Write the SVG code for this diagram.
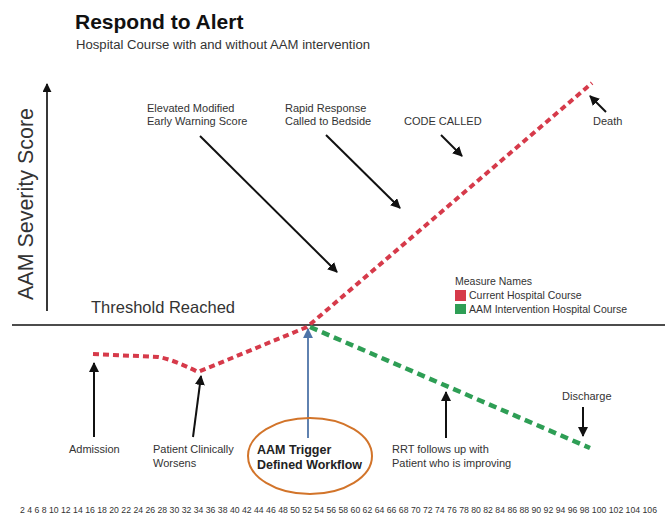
<svg xmlns="http://www.w3.org/2000/svg" width="667" height="520" viewBox="0 0 667 520">
<style>
text{font-family:"Liberation Sans",Arial,sans-serif;fill:#333}
.lbl{font-size:11px}
.blk{stroke:#111;stroke-width:2;fill:none}
.red{stroke:#d63a4a;stroke-width:4;fill:none;stroke-dasharray:6 4}
.green{stroke:#2e9e55;stroke-width:4.5;fill:none;stroke-dasharray:8 5}
</style>
<defs>
<marker id="ah" viewBox="0 0 10 10" refX="9" refY="5" markerWidth="5" markerHeight="5" orient="auto" markerUnits="strokeWidth">
<path d="M0,0 L10,5 L0,10 Z" fill="#111"/>
</marker>
<marker id="ahb" viewBox="0 0 10 10" refX="9" refY="5" markerWidth="5.5" markerHeight="5.5" orient="auto" markerUnits="strokeWidth">
<path d="M0,0 L10,5 L0,10 Z" fill="#4e74a8"/>
</marker>
</defs>

<g id="title">
<text x="75" y="29" font-size="21" font-weight="bold" style="fill:#111">Respond to Alert</text>
<text x="76" y="49" font-size="12.5" textLength="294" lengthAdjust="spacingAndGlyphs">Hospital Course with and without AAM intervention</text>
</g>

<g id="axis">
<line x1="47" y1="311" x2="47" y2="84" stroke="#222" stroke-width="1.8" marker-end="url(#ah)"/>
<text transform="translate(33,204) rotate(-90)" text-anchor="middle" font-size="22" textLength="192" lengthAdjust="spacingAndGlyphs">AAM Severity Score</text>
<line x1="12" y1="325" x2="665" y2="325" stroke="#111" stroke-width="1.5"/>
<text x="91" y="313" font-size="16.5">Threshold Reached</text>
<text x="20" y="513" font-size="8.6" textLength="637" lengthAdjust="spacingAndGlyphs">2 4 6 8 10 12 14 16 18 20 22 24 26 28 30 32 34 36 38 40 42 44 46 48 50 52 54 56 58 60 62 64 66 68 70 72 74 76 78 80 82 84 86 88 90 92 94 96 98 100 102 104 106</text>
</g>

<g id="legend">
<text x="455" y="285" font-size="10.5">Measure Names</text>
<rect x="455" y="290" width="11" height="11" fill="#d63a4a"/>
<text x="469" y="299" font-size="10.5">Current Hospital Course</text>
<rect x="455" y="304" width="11" height="10" fill="#2e9e55"/>
<text x="469" y="313" font-size="10.5">AAM Intervention Hospital Course</text>
</g>

<g id="connectors">
<path class="red" d="M93,354 L158,357 Q172,359 198,372 L307,327 L592,83"/>
<path class="green" d="M310,327 L590,448"/>
<line class="blk" x1="200" y1="136" x2="337" y2="272" marker-end="url(#ah)"/>
<line class="blk" x1="326" y1="135" x2="400" y2="208" marker-end="url(#ah)"/>
<line class="blk" x1="441" y1="135" x2="462" y2="156" marker-end="url(#ah)"/>
<line class="blk" x1="606" y1="112" x2="590" y2="96" marker-end="url(#ah)"/>
<line class="blk" x1="94" y1="437" x2="94" y2="363" marker-end="url(#ah)"/>
<line class="blk" x1="193" y1="437" x2="201" y2="376" marker-end="url(#ah)"/>
<line class="blk" x1="446" y1="438" x2="446" y2="392" marker-end="url(#ah)"/>
<line class="blk" x1="583" y1="407" x2="583" y2="436" marker-end="url(#ah)"/>
<line x1="308" y1="438" x2="308" y2="329" stroke="#4e74a8" stroke-width="1.8" marker-end="url(#ahb)"/>
</g>

<g id="ews"><text class="lbl" x="147" y="112">Elevated Modified</text><text class="lbl" x="147" y="125">Early Warning Score</text></g>
<g id="rrt-called"><text class="lbl" x="285" y="112">Rapid Response</text><text class="lbl" x="285" y="125">Called to Bedside</text></g>
<g id="code"><text class="lbl" x="404" y="125">CODE CALLED</text></g>
<g id="death"><text class="lbl" x="593" y="125">Death</text></g>
<g id="admission"><text class="lbl" x="69" y="453">Admission</text></g>
<g id="worsens"><text class="lbl" x="153" y="453">Patient Clinically</text><text class="lbl" x="153" y="467">Worsens</text></g>
<g id="trigger">
<ellipse cx="310" cy="456" rx="62" ry="38" fill="none" stroke="#d2742a" stroke-width="2"/>
<text x="257" y="454" font-size="12.5" font-weight="bold" style="fill:#222">AAM Trigger</text>
<text x="257" y="469" font-size="12.5" font-weight="bold" style="fill:#222" textLength="105" lengthAdjust="spacingAndGlyphs">Defined Workflow</text>
</g>
<g id="rrt-follow"><text class="lbl" x="392" y="453">RRT follows up with</text><text class="lbl" x="392" y="467">Patient who is improving</text></g>
<g id="discharge"><text class="lbl" x="562" y="400">Discharge</text></g>
</svg>
